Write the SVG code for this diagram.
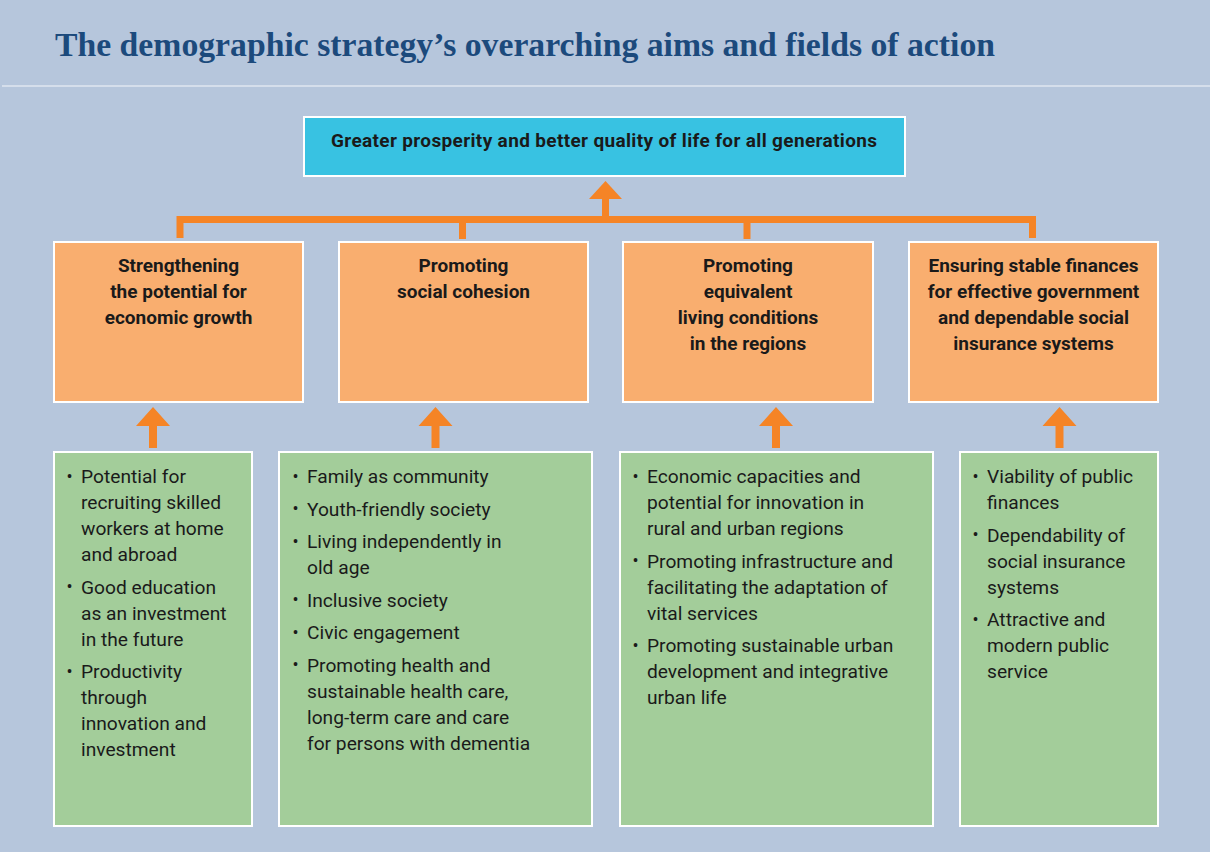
<svg xmlns="http://www.w3.org/2000/svg" width="1210" height="852" viewBox="0 0 1210 852">
<style>
.bg{fill:#b6c6dc}
.title{font-family:"Liberation Serif","Times New Roman",serif;font-weight:bold;font-size:34px;fill:#1c4a7c}
.top{fill:#38c2e2;stroke:#ffffff;stroke-width:2}
.aim{fill:#f9ae6f;stroke:#ffffff;stroke-width:2}
.field{fill:#a3cd9a;stroke:#ffffff;stroke-width:2}
.h{font-family:Roboto,"Liberation Sans",sans-serif;font-weight:bold;font-size:19px;fill:#1a1a1a;text-anchor:middle}
.b{font-family:Roboto,"Liberation Sans",sans-serif;font-size:19.2px;fill:#1a1a1a}
.d{font-family:Roboto,"Liberation Sans",sans-serif;font-size:18px;fill:#1a1a1a}
.line{fill:none;stroke:#f58426;stroke-width:7}
.arr{fill:#f58426}
</style>
<rect class="bg" x="0" y="0" width="1210" height="852"/>
<line x1="2" y1="86" x2="1210" y2="86" stroke="#dfe6f0" stroke-width="1.5"/>
<text class="title" x="55" y="56" textLength="940" lengthAdjust="spacingAndGlyphs">The demographic strategy’s overarching aims and fields of action</text>

<g id="connectors">
<path class="line" d="M180 238 V219.5 H1032.5 V238 M462.5 219.5 V239 M747 219.5 V239 M605.5 219.5 V197"/>
<polygon class="arr" points="605.5,181 622,199 589,199"/>
<polygon class="arr" points="153,407 170,426 157,426 157,448 149,448 149,426 136,426"/>
<polygon class="arr" points="435.5,407 452.5,426 439.5,426 439.5,448 431.5,448 431.5,426 418.5,426"/>
<polygon class="arr" points="776,407 793,426 780,426 780,448 772,448 772,426 759,426"/>
<polygon class="arr" points="1059.5,407 1076.5,426 1063.5,426 1063.5,448 1055.5,448 1055.5,426 1042.5,426"/>
</g>

<g id="goal">
<rect class="top" x="304" y="117" width="601" height="59"/>
<text class="h" x="604" y="147" textLength="546">Greater prosperity and better quality of life for all generations</text>
</g>

<g id="aim1">
<rect class="aim" x="54" y="242" width="249" height="160"/>
<text class="h" x="178.5" y="272">Strengthening</text>
<text class="h" x="178.5" y="298">the potential for</text>
<text class="h" x="178.5" y="324">economic growth</text>
</g>
<g id="aim2">
<rect class="aim" x="339" y="242" width="249" height="160"/>
<text class="h" x="463.5" y="272">Promoting</text>
<text class="h" x="463.5" y="298">social cohesion</text>
</g>
<g id="aim3">
<rect class="aim" x="623" y="242" width="250" height="160"/>
<text class="h" x="748" y="272">Promoting</text>
<text class="h" x="748" y="298">equivalent</text>
<text class="h" x="748" y="324">living conditions</text>
<text class="h" x="748" y="350">in the regions</text>
</g>
<g id="aim4">
<rect class="aim" x="909" y="242" width="249" height="160"/>
<text class="h" x="1033.5" y="272">Ensuring stable finances</text>
<text class="h" x="1033.5" y="298">for effective government</text>
<text class="h" x="1033.5" y="324">and dependable social</text>
<text class="h" x="1033.5" y="350">insurance systems</text>
</g>

<g id="fields1">
<rect class="field" x="54" y="452" width="198" height="374"/>
<text class="d" x="66.5" y="482.5">•</text><text class="b" x="81" y="483">Potential for</text>
<text class="b" x="81" y="509">recruiting skilled</text>
<text class="b" x="81" y="535">workers at home</text>
<text class="b" x="81" y="561">and abroad</text>
<text class="d" x="66.5" y="593">•</text><text class="b" x="81" y="593.5">Good education</text>
<text class="b" x="81" y="619.5">as an investment</text>
<text class="b" x="81" y="645.5">in the future</text>
<text class="d" x="66.5" y="677.5">•</text><text class="b" x="81" y="678">Productivity</text>
<text class="b" x="81" y="704">through</text>
<text class="b" x="81" y="730">innovation and</text>
<text class="b" x="81" y="756">investment</text>
</g>
<g id="fields2">
<rect class="field" x="279" y="452" width="313" height="374"/>
<text class="d" x="292.5" y="482.5">•</text><text class="b" x="307" y="483">Family as community</text>
<text class="d" x="292.5" y="515">•</text><text class="b" x="307" y="515.5">Youth-friendly society</text>
<text class="d" x="292.5" y="547.5">•</text><text class="b" x="307" y="548">Living independently in</text>
<text class="b" x="307" y="574">old age</text>
<text class="d" x="292.5" y="606">•</text><text class="b" x="307" y="606.5">Inclusive society</text>
<text class="d" x="292.5" y="638.5">•</text><text class="b" x="307" y="639">Civic engagement</text>
<text class="d" x="292.5" y="671">•</text><text class="b" x="307" y="671.5">Promoting health and</text>
<text class="b" x="307" y="697.5">sustainable health care,</text>
<text class="b" x="307" y="723.5">long-term care and care</text>
<text class="b" x="307" y="749.5">for persons with dementia</text>
</g>
<g id="fields3">
<rect class="field" x="620" y="452" width="313" height="374"/>
<text class="d" x="632.5" y="482.5">•</text><text class="b" x="647" y="483">Economic capacities and</text>
<text class="b" x="647" y="509">potential for innovation in</text>
<text class="b" x="647" y="535">rural and urban regions</text>
<text class="d" x="632.5" y="567">•</text><text class="b" x="647" y="567.5">Promoting infrastructure and</text>
<text class="b" x="647" y="593.5">facilitating the adaptation of</text>
<text class="b" x="647" y="619.5">vital services</text>
<text class="d" x="632.5" y="651.5">•</text><text class="b" x="647" y="652">Promoting sustainable urban</text>
<text class="b" x="647" y="678">development and integrative</text>
<text class="b" x="647" y="704">urban life</text>
</g>
<g id="fields4">
<rect class="field" x="960" y="452" width="198" height="374"/>
<text class="d" x="972.5" y="482.5">•</text><text class="b" x="987" y="483">Viability of public</text>
<text class="b" x="987" y="509">finances</text>
<text class="d" x="972.5" y="541">•</text><text class="b" x="987" y="541.5">Dependability of</text>
<text class="b" x="987" y="567.5">social insurance</text>
<text class="b" x="987" y="593.5">systems</text>
<text class="d" x="972.5" y="625.5">•</text><text class="b" x="987" y="626">Attractive and</text>
<text class="b" x="987" y="652">modern public</text>
<text class="b" x="987" y="678">service</text>
</g>
</svg>
